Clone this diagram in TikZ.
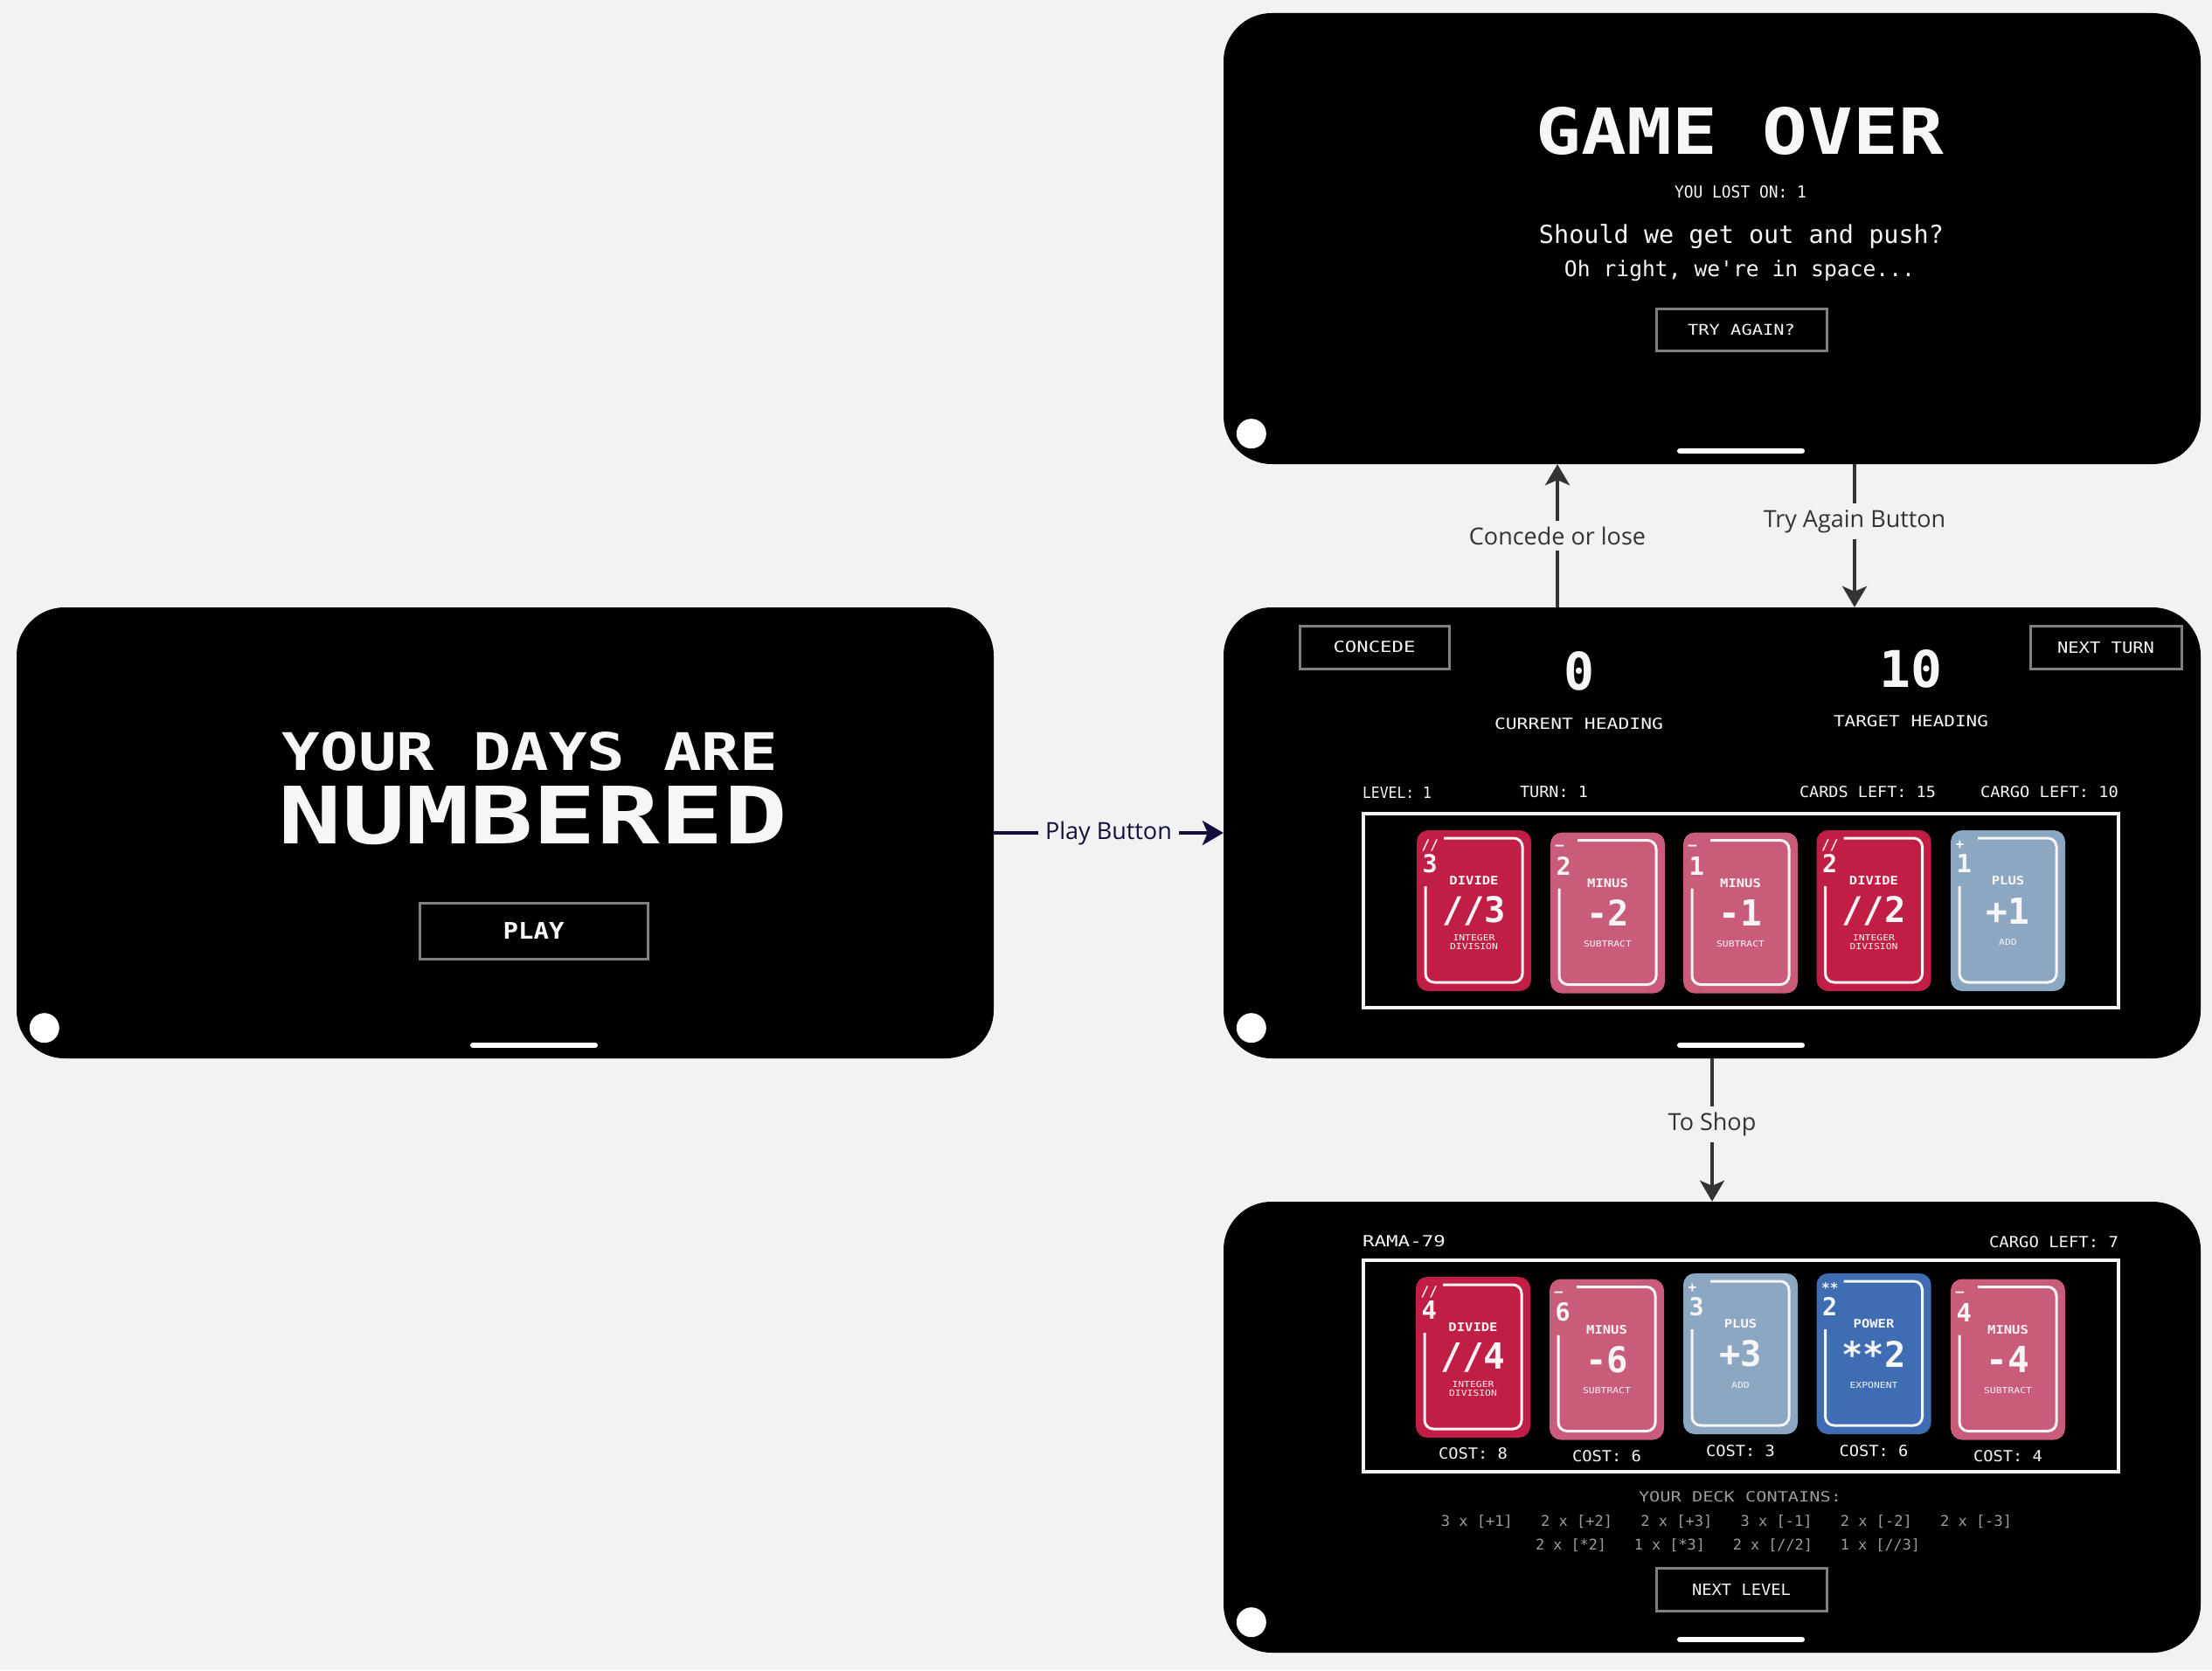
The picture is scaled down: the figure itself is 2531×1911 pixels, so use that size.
\documentclass[tikz,border=0pt]{standalone}
\usepackage{fontspec}
\usepackage{graphicx}
\setmainfont{Open Sans}
\newfontfamily\px{DejaVu Sans Mono}
\usetikzlibrary{arrows.meta}
\definecolor{bg}{HTML}{F2F2F2}
\definecolor{cw}{HTML}{F7F5F5}
\definecolor{divc}{HTML}{C01E45}
\definecolor{minc}{HTML}{C95C78}
\definecolor{plusc}{HTML}{8BA7C2}
\definecolor{powc}{HTML}{3E6DB3}
\definecolor{lnk}{HTML}{333333}
\definecolor{navy}{HTML}{100E3C}
\definecolor{btn}{HTML}{808080}
\definecolor{dim}{HTML}{9C9C9C}

\newcommand\tw[3]{\resizebox{#1pt}{#2pt}{#3}}

% cx, cy, colour, op, num, title, big value, subtitle, name prefix
\newcommand\gcard[9]{%
\begin{scope}[shift={(#1,#2)}]
\fill[#3, rounded corners=13pt] (-65.5,-92) rectangle (65.5,92);
\draw[cw, line width=3pt, rounded corners=10pt] (-55.5,-28) -- (-55.5,82) -- (55.5,82) -- (55.5,-83) -- (-34.5,-83);
\node[anchor=west, inner sep=0pt, text=cw] (#9-op) at (-60,-75) {\px\bfseries\fontsize{16}{16}\selectfont #4};
\node[anchor=west, inner sep=0pt, text=cw] (#9-num) at (-59,-54) {\resizebox{!}{21pt}{\px\bfseries #5}};
\node[inner sep=0pt, text=cw] (#9-title) at (0,-34) {\scalebox{1.15}[1]{\px\bfseries\fontsize{13.5}{13.5}\selectfont #6}};
\node[inner sep=0pt, text=cw] (#9-big) at (0,0) {\resizebox{!}{30pt}{\px\bfseries #7}};
\node[inner sep=0pt, text=cw] (#9-sub) at (0,36) {\scalebox{1.2}[1]{\px\fontsize{9.5}{8}\selectfont\shortstack{#8}}};
\end{scope}}

\begin{document}
\begin{tikzpicture}[x=1pt,y=-1pt,
 screen/.style={fill=black, rounded corners=55pt, minimum width=1118pt, minimum height=516pt, inner sep=0pt},
 txt/.style={inner sep=0pt, text=cw},
 btnbox/.style={draw=btn, line width=3pt, fill=black, inner sep=0pt, text=cw},
 conn/.style={draw=lnk, line width=4pt, -{Stealth[length=24pt,width=28pt,inset=6pt,fill=lnk]}},
 navyconn/.style={draw=navy, line width=4pt, -{Stealth[length=24pt,width=28pt,inset=6pt,fill=navy]}},
 lbl/.style={fill=bg, text=lnk, inner xsep=8pt, inner ysep=7pt, font=\fontsize{27}{27}\selectfont},
 dot/.style={fill=white},
 homebar/.style={draw=white, line width=6pt, line cap=round},
]
\fill[bg] (0,0) rectangle (2531,1911);
\useasboundingbox (0,0) rectangle (2531,1911);

% screens
\node[screen] (s1) at (578,953) {};
\node[screen] (s2) at (1959,953) {};
\node[screen] (s3) at (1959,273) {};
\node[screen] (s4) at (1959,1633) {};

\foreach \s in {s1,s2,s3,s4}{
  \fill[dot] ([shift={(32pt,35pt)}]\s.south west) circle (17pt);
  \draw[homebar] ([shift={(-37pt,15pt)}]\s.south) -- ([shift={(103pt,15pt)}]\s.south);
}

% connectors
\draw[navyconn] (s1.east) -- (s2.west) node[midway, lbl, text=navy] (lplay) {Play Button};
\draw[conn] ([xshift=-177pt]s2.north) -- ([xshift=-177pt]s3.south) node[midway, lbl] (lconc) {Concede or lose};
\draw[conn] ([xshift=163pt]s3.south) -- ([xshift=163pt]s2.north) node[pos=0.4, lbl] (ltry) {Try Again Button};
\draw[conn] (s2.south) -- (s4.north) node[pos=0.46, lbl] (lshop) {To Shop};

% screen 1: title
\node[txt] (t1) at (606.5,860) {\tw{567}{44}{\px\bfseries YOUR DAYS ARE}};
\node[txt] (t2) at (610,933) {\tw{582}{66}{\px\bfseries NUMBERED}};
\node[btnbox, minimum width=261pt, minimum height=64pt] (bplay) at (610.5,1065) {\tw{70}{19}{\px\bfseries PLAY}};

% screen 3: game over
\node[txt] (go) at (1991,150) {\tw{466}{54}{\px\bfseries GAME OVER}};
\node[txt] (lost) at (1991.5,220) {\tw{151}{14}{\px YOU LOST ON: 1}};
\node[txt] (msg1) at (1992.5,270.5) {\resizebox{463pt}{!}{\px Should we get out and push?}};
\node[txt] (msg2) at (1990.5,309.5) {\resizebox{401pt}{!}{\px Oh right, we're in space...}};
\node[btnbox, minimum width=195pt, minimum height=48pt] (btry) at (1992.5,377) {\tw{123}{12.5}{\px TRY AGAIN?}};

% screen 2: game
\node[btnbox, minimum width=171pt, minimum height=49pt] (bconc) at (1572.5,740.5) {\tw{94}{13}{\px CONCEDE}};
\node[btnbox, minimum width=173pt, minimum height=49pt] (bnext) at (2409.5,741) {\tw{111}{13}{\px NEXT TURN}};
\node[txt] (h0) at (1806.5,768) {\tw{35}{44}{\px\bfseries 0}};
\node[txt] (h10) at (2186,765.5) {\tw{72}{43}{\px\bfseries 10}};
\node[txt] (ch) at (1806.5,828.5) {\tw{193}{13}{\px CURRENT HEADING}};
\node[txt] (th) at (2186.5,825.5) {\tw{177}{13}{\px TARGET HEADING}};
\node[txt] (lv) at (1598.5,906.5) {\tw{79}{13}{\px LEVEL: 1}};
\node[txt] (tn) at (1778,906.5) {\tw{78}{13}{\px TURN: 1}};
\node[txt] (cl) at (2137,906.5) {\tw{156}{13}{\px CARDS LEFT: 15}};
\node[txt] (cg) at (2345,906.5) {\tw{158}{13}{\px CARGO LEFT: 10}};
\draw[cw, line width=4pt] (1560,931) rectangle (2424,1153);
\gcard{1686.5}{1042}{divc}{//}{3}{DIVIDE}{//3}{INTEGER\\DIVISION}{a1}
\gcard{1839.5}{1044.5}{minc}{–}{2}{MINUS}{-2}{SUBTRACT}{a2}
\gcard{1991.5}{1044.5}{minc}{–}{1}{MINUS}{-1}{SUBTRACT}{a3}
\gcard{2144}{1042}{divc}{//}{2}{DIVIDE}{//2}{INTEGER\\DIVISION}{a4}
\gcard{2297.5}{1042}{plusc}{+}{1}{PLUS}{+1}{ADD}{a5}

% screen 4: shop
\node[txt] (rama) at (1606.5,1420.5) {\tw{95}{13}{\px RAMA-79}};
\node[txt] (cg2) at (2350,1421.5) {\tw{148}{13}{\px CARGO LEFT: 7}};
\draw[cw, line width=4pt] (1560,1442) rectangle (2424,1684);
\gcard{1685.5}{1553}{divc}{//}{4}{DIVIDE}{//4}{INTEGER\\DIVISION}{b1}
\gcard{1838.5}{1555.5}{minc}{–}{6}{MINUS}{-6}{SUBTRACT}{b2}
\gcard{1991.5}{1549}{plusc}{+}{3}{PLUS}{+3}{ADD}{b3}
\gcard{2144}{1549}{powc}{**}{2}{POWER}{**2}{EXPONENT}{b4}
\gcard{2297.5}{1555.5}{minc}{–}{4}{MINUS}{-4}{SUBTRACT}{b5}
\node[txt] (c1) at (1685.5,1663) {\tw{79}{13}{\px COST: 8}};
\node[txt] (c2) at (1838.5,1666) {\tw{79}{13}{\px COST: 6}};
\node[txt] (c3) at (1991.5,1660) {\tw{79}{13}{\px COST: 3}};
\node[txt] (c4) at (2144,1660) {\tw{79}{13}{\px COST: 6}};
\node[txt] (c5) at (2297.5,1666) {\tw{79}{13}{\px COST: 4}};
\node[txt, text=dim] (dk) at (1991,1713) {\tw{232}{12}{\px YOUR DECK CONTAINS:}};
\node[txt, text=dim] (dk1) at (1975.5,1741) {\resizebox{653pt}{!}{\px 3 x [+1]\hspace{1.9em}2 x [+2]\hspace{1.9em}2 x [+3]\hspace{1.9em}3 x [-1]\hspace{1.9em}2 x [-2]\hspace{1.9em}2 x [-3]}};
\node[txt, text=dim] (dk2) at (1977,1768) {\resizebox{440pt}{!}{\px 2 x [*2]\hspace{1.9em}1 x [*3]\hspace{1.9em}2 x [//2]\hspace{1.9em}1 x [//3]}};
\node[btnbox, minimum width=195pt, minimum height=49pt] (blevel) at (1992.5,1818.5) {\tw{113}{13}{\px NEXT LEVEL}};
\end{tikzpicture}
\end{document}
